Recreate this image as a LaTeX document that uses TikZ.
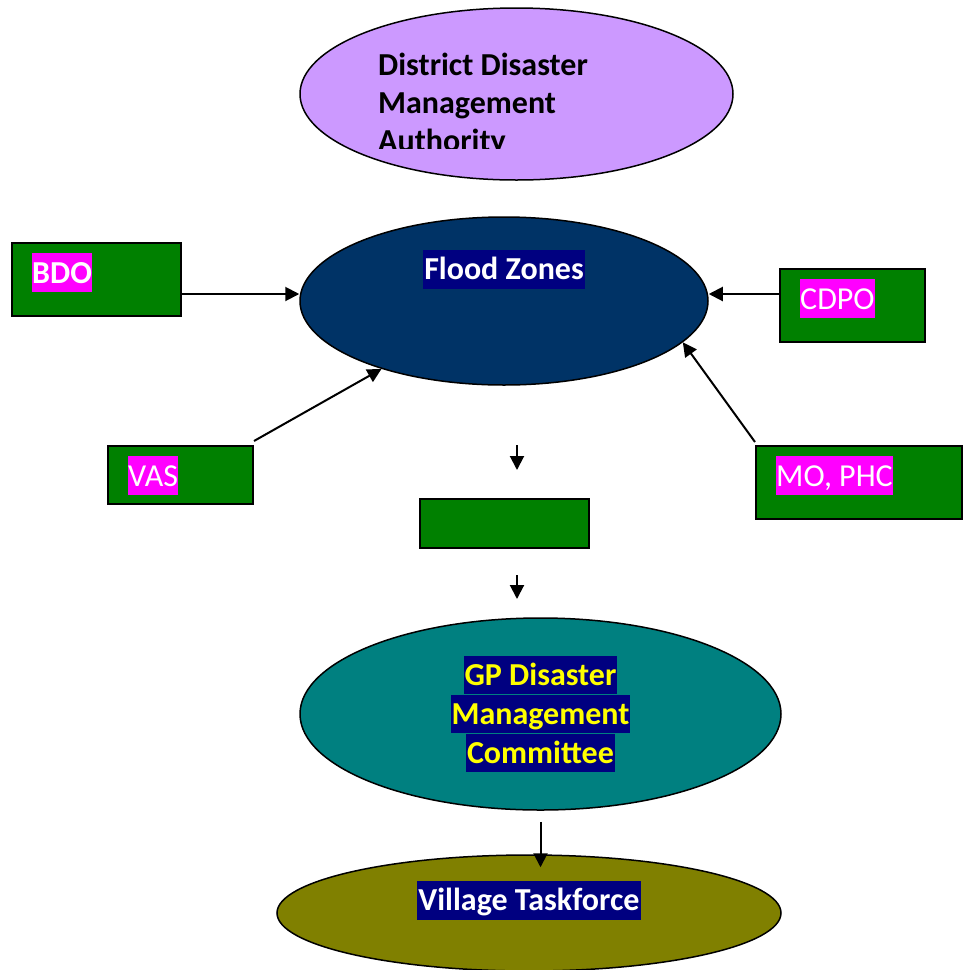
\documentclass[tikz,border=0pt]{standalone}
\usepackage{fontspec}
\setmainfont{Carlito}
\usepackage{xcolor}
\usetikzlibrary{
  positioning, arrows.meta, shapes.geometric, calc,
}
\definecolor{cDdma}   {HTML}{CC99FF}
\definecolor{cFlood}  {HTML}{003366}
\definecolor{cNavy}   {HTML}{000080}
\definecolor{cGreen}  {HTML}{008000}
\definecolor{cMagenta}{HTML}{FF00FF}
\definecolor{cTeal}   {HTML}{008080}
\definecolor{cOlive}  {HTML}{808000}
\definecolor{cYellow} {HTML}{FFFF00}
\newcommand{\bigfont}{\fontsize{32}{39}\selectfont}
% one highlighted line of text, as the word processor paints it
\newcommand{\hiline}[2]{{\setlength{\fboxsep}{0pt}\colorbox{#1}{\rule[-9pt]{0pt}{38.5pt}\kern1pt#2\kern1pt}}}

\begin{document}
\begin{tikzpicture}[x=1pt, y=-1pt,
    blob/.style={ellipse, draw=black, line width=1.5pt, inner sep=0pt},
    unit/.style={rectangle, draw=black, line width=2pt, fill=cGreen, inner sep=0pt},
    tag/.style={font=\bigfont, fill=cMagenta, text=white, inner sep=0pt,
      text height=30pt, text depth=9pt, anchor=north west},
    navytag/.style={font=\bigfont\bfseries, fill=cNavy, text=white, inner xsep=1pt,
      inner ysep=0pt, text height=30pt, text depth=9pt},
    arr/.style={-{Triangle[length=14pt,width=14pt]}, line width=2pt},
  ]
  \useasboundingbox (0,0) rectangle (963,970);

  % ellipses
  \node[blob, fill=cDdma, minimum width=433pt, minimum height=172pt] (ddma) at (516.5,94) {};
  \node[blob, fill=cFlood, minimum width=408pt, minimum height=168pt] (fz) at (504,301) {};
  \node[blob, fill=cTeal, minimum width=481pt, minimum height=192pt, font=\bigfont\bfseries,
    text=cYellow, align=center] (gp) at (540.5,714)
    {\hiline{cNavy}{GP Disaster}\\\hiline{cNavy}{Management}\\\hiline{cNavy}{Committee}};
  \node[blob, fill=cOlive, minimum width=504pt, minimum height=116pt] (vtf) at (529,913) {};

  % text box of the top ellipse is cut off
  \begin{scope}
    \clip (370,40) rectangle (620,148);
    \node[anchor=north west, inner sep=0pt, align=left,
      font=\fontsize{32}{38}\selectfont\bfseries] (ddmatext) at (378,45.6)
      {\rule{0pt}{30pt}District Disaster\\Management\\Authority};
  \end{scope}
  \node[navytag] (fztext) at ([yshift=32pt]fz.center) {Flood Zones};
  \node[navytag] (vtftext) at ([yshift=13pt]vtf.center) {Village Taskforce};

  % officer boxes
  \node[unit, minimum width=169pt, minimum height=73pt] (bdo) at (96.5,279.5) {};
  \node[unit, minimum width=145pt, minimum height=73pt] (cdpo) at (852.5,305.5) {};
  \node[unit, minimum width=145pt, minimum height=58pt] (vas) at (180.5,475) {};
  \node[unit, minimum width=206pt, minimum height=73pt] (mo) at (859,482.5) {};
  \node[unit, minimum width=169pt, minimum height=49pt] (mid) at (504.5,523.5) {};

  \node[tag, font=\bigfont\bfseries] (bdotag) at ([xshift=21pt,yshift=-11pt]bdo.north west) {BDO};
  \node[tag] (cdpotag) at ([xshift=21pt,yshift=-11pt]cdpo.north west) {CDPO};
  \node[tag] (vastag) at ([xshift=21pt,yshift=-11pt]vas.north west) {VAS};
  \node[tag] (motag) at ([xshift=21pt,yshift=-11pt]mo.north west) {MO, PHC};

  % connectors
  \draw[arr] ([yshift=-14.5pt]bdo.east) -- ([yshift=-14.5pt]bdo.east -| fz.west);
  \draw[arr] ([yshift=11.5pt]cdpo.west) -- ([yshift=11.5pt]cdpo.west -| fz.east);
  \draw[arr] ([yshift=4pt]vas.north east) -- (fz.209);
  \draw[arr] ([yshift=3pt]mo.north west) -- (fz.-13);

  \coordinate (d1a) at (517,445);
  \coordinate (d1b) at (517,470);
  \coordinate (d2a) at (517,575);
  \coordinate (d2b) at (517,599);
  \draw[arr] (d1a) -- (d1b);
  \draw[arr] (d2a) -- (d2b);
  \draw[arr] ([yshift=-11pt]gp.south) -- ([yshift=-13pt]gp.south |- vtf.north);
\end{tikzpicture}
\end{document}
